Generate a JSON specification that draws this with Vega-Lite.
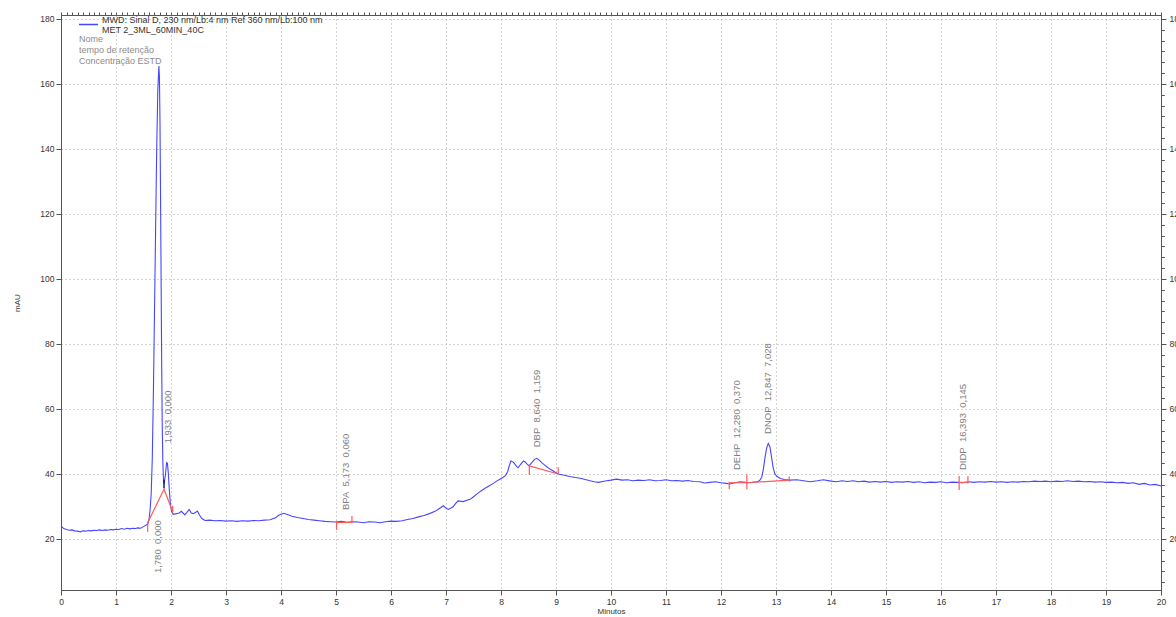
{
  "$schema": "https://vega.github.io/schema/vega-lite/v6.json",
  "width": 1100,
  "height": 575,
  "autosize": {"type": "none"},
  "padding": {"left": 61, "top": 15, "right": 15, "bottom": 27},
  "background": "white",
  "config": {
    "font": "Liberation Sans",
    "view": {"stroke": "#555555", "strokeWidth": 1}
  },
  "title": {
    "text": ["Nome", "tempo de retenção", "Concentração ESTD"],
    "anchor": "start",
    "frame": "group",
    "orient": "top",
    "offset": -54,
    "dx": 18,
    "fontSize": 9,
    "fontWeight": "normal",
    "color": "#8c8c8c",
    "lineHeight": 11
  },
  "datasets": {
    "trace": [
      {"t":0.00,"v":24.0},{"t":0.05,"v":23.2},{"t":0.10,"v":22.9},{"t":0.15,"v":22.7},{"t":0.20,"v":22.8},{"t":0.25,"v":22.5},{"t":0.30,"v":22.4},{"t":0.35,"v":22.2},{"t":0.40,"v":22.5},{"t":0.45,"v":22.4},{"t":0.50,"v":22.6},{"t":0.55,"v":22.5},{"t":0.60,"v":22.7},{"t":0.65,"v":22.6},{"t":0.70,"v":22.8},{"t":0.75,"v":22.6},{"t":0.80,"v":22.8},{"t":0.85,"v":22.7},{"t":0.90,"v":22.9},{"t":0.95,"v":22.8},{"t":1.00,"v":23.0},{"t":1.05,"v":22.9},{"t":1.10,"v":23.2},{"t":1.15,"v":23.0},{"t":1.20,"v":23.3},{"t":1.25,"v":23.1},{"t":1.30,"v":23.3},{"t":1.35,"v":23.2},{"t":1.40,"v":23.4},{"t":1.45,"v":23.3},{"t":1.50,"v":23.8},{"t":1.55,"v":24.3},{"t":1.58,"v":24.6},{"t":1.60,"v":26.0},{"t":1.62,"v":29.0},{"t":1.64,"v":34.0},{"t":1.66,"v":45.0},{"t":1.68,"v":65.0},{"t":1.70,"v":90.0},{"t":1.72,"v":115.0},{"t":1.74,"v":140.0},{"t":1.76,"v":158.0},{"t":1.78,"v":165.5},{"t":1.79,"v":162.0},{"t":1.80,"v":148.0},{"t":1.81,"v":125.0},{"t":1.82,"v":100.0},{"t":1.83,"v":75.0},{"t":1.84,"v":56.0},{"t":1.85,"v":45.0},{"t":1.86,"v":39.5},{"t":1.87,"v":37.0},{"t":1.88,"v":37.5},{"t":1.90,"v":40.0},{"t":1.92,"v":43.5},{"t":1.935,"v":43.3},{"t":1.95,"v":40.5},{"t":1.97,"v":35.0},{"t":1.99,"v":30.5},{"t":2.01,"v":28.5},{"t":2.04,"v":27.6},{"t":2.10,"v":27.8},{"t":2.15,"v":28.0},{"t":2.19,"v":28.5},{"t":2.25,"v":27.4},{"t":2.29,"v":28.2},{"t":2.33,"v":29.1},{"t":2.37,"v":28.0},{"t":2.41,"v":27.8},{"t":2.45,"v":28.2},{"t":2.48,"v":28.6},{"t":2.52,"v":27.3},{"t":2.56,"v":26.3},{"t":2.62,"v":25.7},{"t":2.70,"v":25.8},{"t":2.80,"v":25.6},{"t":2.90,"v":25.7},{"t":3.00,"v":25.5},{"t":3.10,"v":25.6},{"t":3.20,"v":25.4},{"t":3.30,"v":25.6},{"t":3.40,"v":25.5},{"t":3.50,"v":25.7},{"t":3.60,"v":25.6},{"t":3.70,"v":25.8},{"t":3.80,"v":25.9},{"t":3.90,"v":26.5},{"t":3.95,"v":27.2},{"t":4.00,"v":27.6},{"t":4.05,"v":27.9},{"t":4.10,"v":27.6},{"t":4.20,"v":27.0},{"t":4.30,"v":26.6},{"t":4.40,"v":26.3},{"t":4.50,"v":26.0},{"t":4.60,"v":25.8},{"t":4.70,"v":25.6},{"t":4.80,"v":25.4},{"t":4.90,"v":25.3},{"t":5.00,"v":25.2},{"t":5.10,"v":25.4},{"t":5.20,"v":25.1},{"t":5.30,"v":25.3},{"t":5.40,"v":25.2},{"t":5.50,"v":25.0},{"t":5.60,"v":25.3},{"t":5.70,"v":25.2},{"t":5.80,"v":25.0},{"t":5.90,"v":25.3},{"t":6.00,"v":25.5},{"t":6.10,"v":25.4},{"t":6.20,"v":25.6},{"t":6.30,"v":26.0},{"t":6.40,"v":26.3},{"t":6.50,"v":26.8},{"t":6.60,"v":27.2},{"t":6.70,"v":27.8},{"t":6.80,"v":28.5},{"t":6.90,"v":29.6},{"t":6.95,"v":30.2},{"t":7.00,"v":29.5},{"t":7.04,"v":29.1},{"t":7.10,"v":29.6},{"t":7.13,"v":29.9},{"t":7.18,"v":31.0},{"t":7.22,"v":31.7},{"t":7.31,"v":31.5},{"t":7.38,"v":31.9},{"t":7.44,"v":32.2},{"t":7.50,"v":33.0},{"t":7.56,"v":33.8},{"t":7.63,"v":34.7},{"t":7.71,"v":35.6},{"t":7.78,"v":36.3},{"t":7.86,"v":37.1},{"t":7.92,"v":37.8},{"t":7.98,"v":38.4},{"t":8.04,"v":39.0},{"t":8.08,"v":39.5},{"t":8.12,"v":40.7},{"t":8.15,"v":42.5},{"t":8.18,"v":44.0},{"t":8.21,"v":43.8},{"t":8.24,"v":43.3},{"t":8.28,"v":42.4},{"t":8.31,"v":41.9},{"t":8.36,"v":43.0},{"t":8.41,"v":44.0},{"t":8.44,"v":43.7},{"t":8.47,"v":43.1},{"t":8.51,"v":42.5},{"t":8.56,"v":43.5},{"t":8.61,"v":44.5},{"t":8.65,"v":44.8},{"t":8.70,"v":44.2},{"t":8.74,"v":43.5},{"t":8.79,"v":42.8},{"t":8.83,"v":42.2},{"t":8.89,"v":41.5},{"t":8.95,"v":40.9},{"t":9.00,"v":40.4},{"t":9.06,"v":39.9},{"t":9.15,"v":39.6},{"t":9.25,"v":39.2},{"t":9.35,"v":38.9},{"t":9.44,"v":38.7},{"t":9.53,"v":38.3},{"t":9.62,"v":37.9},{"t":9.70,"v":37.6},{"t":9.77,"v":37.4},{"t":9.85,"v":37.7},{"t":9.92,"v":37.9},{"t":10.00,"v":38.1},{"t":10.10,"v":38.4},{"t":10.20,"v":38.1},{"t":10.30,"v":38.2},{"t":10.40,"v":37.9},{"t":10.50,"v":38.1},{"t":10.60,"v":38.0},{"t":10.70,"v":38.2},{"t":10.80,"v":37.9},{"t":10.90,"v":38.0},{"t":11.00,"v":38.2},{"t":11.10,"v":37.9},{"t":11.20,"v":38.0},{"t":11.30,"v":37.8},{"t":11.40,"v":38.0},{"t":11.50,"v":37.7},{"t":11.62,"v":37.6},{"t":11.70,"v":37.2},{"t":11.80,"v":37.4},{"t":11.90,"v":37.6},{"t":12.00,"v":37.3},{"t":12.10,"v":37.1},{"t":12.16,"v":36.9},{"t":12.25,"v":37.3},{"t":12.35,"v":37.6},{"t":12.45,"v":37.4},{"t":12.53,"v":37.3},{"t":12.60,"v":37.5},{"t":12.65,"v":37.6},{"t":12.70,"v":37.9},{"t":12.74,"v":39.0},{"t":12.77,"v":41.5},{"t":12.80,"v":45.0},{"t":12.83,"v":48.0},{"t":12.86,"v":49.4},{"t":12.89,"v":48.3},{"t":12.92,"v":45.0},{"t":12.95,"v":41.8},{"t":12.98,"v":40.0},{"t":13.02,"v":39.2},{"t":13.08,"v":38.6},{"t":13.15,"v":38.3},{"t":13.25,"v":38.1},{"t":13.38,"v":38.2},{"t":13.50,"v":37.9},{"t":13.62,"v":37.6},{"t":13.75,"v":37.9},{"t":13.86,"v":38.2},{"t":14.00,"v":37.8},{"t":14.10,"v":37.6},{"t":14.20,"v":37.9},{"t":14.30,"v":37.7},{"t":14.40,"v":37.9},{"t":14.50,"v":37.6},{"t":14.60,"v":37.8},{"t":14.70,"v":37.5},{"t":14.80,"v":37.7},{"t":14.90,"v":37.5},{"t":15.00,"v":37.7},{"t":15.10,"v":37.4},{"t":15.20,"v":37.6},{"t":15.30,"v":37.5},{"t":15.40,"v":37.7},{"t":15.50,"v":37.4},{"t":15.60,"v":37.6},{"t":15.70,"v":37.3},{"t":15.80,"v":37.5},{"t":15.90,"v":37.4},{"t":16.00,"v":37.6},{"t":16.10,"v":37.3},{"t":16.20,"v":37.5},{"t":16.30,"v":37.4},{"t":16.40,"v":37.3},{"t":16.50,"v":37.6},{"t":16.60,"v":37.4},{"t":16.70,"v":37.6},{"t":16.80,"v":37.5},{"t":16.90,"v":37.7},{"t":17.00,"v":37.5},{"t":17.10,"v":37.6},{"t":17.20,"v":37.4},{"t":17.30,"v":37.6},{"t":17.40,"v":37.5},{"t":17.50,"v":37.7},{"t":17.60,"v":37.6},{"t":17.70,"v":37.8},{"t":17.80,"v":37.7},{"t":17.90,"v":37.8},{"t":18.00,"v":37.6},{"t":18.10,"v":37.8},{"t":18.20,"v":37.7},{"t":18.30,"v":37.9},{"t":18.40,"v":37.7},{"t":18.50,"v":37.8},{"t":18.60,"v":37.6},{"t":18.70,"v":37.7},{"t":18.80,"v":37.5},{"t":18.90,"v":37.6},{"t":19.00,"v":37.4},{"t":19.10,"v":37.5},{"t":19.20,"v":37.3},{"t":19.30,"v":37.4},{"t":19.40,"v":37.1},{"t":19.50,"v":37.3},{"t":19.60,"v":36.8},{"t":19.70,"v":37.1},{"t":19.80,"v":36.6},{"t":19.90,"v":36.8},{"t":20.00,"v":36.3}
    ],
    "baseline": [
      {"seg":"A","t":1.576,"v":25.0},{"seg":"A","t":1.873,"v":35.3},{"seg":"A","t":2.031,"v":28.4},
      {"seg":"B","t":5.01,"v":25.0},{"seg":"B","t":5.29,"v":25.1},
      {"seg":"C","t":8.515,"v":42.5},{"seg":"C","t":9.04,"v":40.0},
      {"seg":"D","t":12.15,"v":37.3},{"seg":"D","t":12.47,"v":37.3},
      {"seg":"E","t":12.47,"v":37.3},{"seg":"E","t":13.24,"v":38.1},
      {"seg":"F","t":16.33,"v":37.4},{"seg":"F","t":16.49,"v":37.4}
    ],
    "limits": [
      {"t":1.576,"v1":22.2,"v2":25.3},{"t":2.031,"v1":28.1,"v2":30.2},
      {"t":5.01,"v1":22.8,"v2":25.6},{"t":5.29,"v1":24.8,"v2":27.1},
      {"t":8.515,"v1":39.7,"v2":42.8},{"t":9.04,"v1":39.9,"v2":42.1},
      {"t":12.15,"v1":35.3,"v2":37.6},{"t":12.47,"v1":35.3,"v2":39.9},{"t":13.24,"v1":37.6,"v2":39.2},
      {"t":16.33,"v1":35.1,"v2":39.4},{"t":16.49,"v1":37.1,"v2":39.4}
    ],
    "split": [
      {"t":1.873,"v1":35.6,"v2":38.2}
    ],
    "peaks": [
      {"t":1.77,"v":9.5,"label":"1,780\u00a0 0,000"},
      {"t":1.95,"v":49.4,"label":"1,933\u00a0 0,000"},
      {"t":5.18,"v":28.9,"label":"BPA\u00a0 5,173\u00a0 0,060"},
      {"t":8.65,"v":48.2,"label":"DBP\u00a0 8,640\u00a0 1,159"},
      {"t":12.285,"v":41.2,"label":"DEHP\u00a0 12,280\u00a0 0,370"},
      {"t":12.86,"v":52.3,"label":"DNOP\u00a0 12,847\u00a0 7,028"},
      {"t":16.405,"v":41.2,"label":"DIDP\u00a0 16,393\u00a0 0,145"}
    ]
  },
  "layer": [
    {
      "data": {"name": "trace"},
      "mark": {"type": "line", "strokeWidth": 1.1, "color": "#4646ff"},
      "encoding": {
        "x": {
          "field": "t", "type": "quantitative",
          "scale": {"domain": [0, 20], "nice": false, "zero": false},
          "axis": {
            "values": [0,1,2,3,4,5,6,7,8,9,10,11,12,13,14,15,16,17,18,19,20],
            "format": "d", "tickSize": 5, "labelFontSize": 8.5, "labelColor": "#333333",
            "labelPadding": 2, "labelFlush": false, "labelOverlap": false,
            "title": "Minutos", "titleFontSize": 8, "titleFontWeight": "normal", "titleColor": "#333333", "titlePadding": 2,
            "grid": true, "gridDash": [1, 3], "gridColor": "#aaaaaa",
            "domainColor": "#555555", "tickColor": "#555555"
          }
        },
        "y": {
          "field": "v", "type": "quantitative",
          "scale": {"domain": [4.3, 181.2], "nice": false, "zero": false},
          "axis": {
            "values": [20,40,60,80,100,120,140,160,180],
            "tickSize": 5, "labelFontSize": 8.5, "labelColor": "#333333", "labelPadding": 2,
            "labelFlush": false, "labelOverlap": false,
            "title": "mAU", "titleFontSize": 8, "titleFontWeight": "normal", "titleColor": "#333333", "titlePadding": 18,
            "grid": true, "gridDash": [1, 3], "gridColor": "#aaaaaa",
            "domainColor": "#555555", "tickColor": "#555555"
          }
        },
        "color": {
          "datum": "MWD: Sinal D, 230 nm/Lb:4 nm Ref 360 nm/Lb:100 nm",
          "scale": {"range": ["#4646ff"]},
          "legend": {
            "orient": "none", "legendX": 17, "legendY": -1, "padding": 0,
            "title": null, "symbolType": "stroke", "symbolSize": 361, "symbolStrokeWidth": 1.5,
            "labelFontSize": 9, "labelColor": "#333333", "labelLimit": 500, "labelOffset": 3,
            "labelExpr": "[datum.label, 'MET 2_3ML_60MIN_40C']",
            "encode": {"labels": {"update": {"lineHeight": {"value": 9.5}, "dy": {"value": -4.5}}}}
          }
        }
      }
    },
    {
      "data": {"name": "baseline"},
      "mark": {"type": "line", "strokeWidth": 1.2, "color": "#ff5a5a"},
      "encoding": {
        "x": {"field": "t", "type": "quantitative", "scale": {"domain": [0, 20], "nice": false, "zero": false},
          "axis": {"tickCount": 200, "labels": false, "domain": false, "grid": false, "tickSize": 3, "tickColor": "#555555", "title": null}},
        "y": {"field": "v", "type": "quantitative", "scale": {"domain": [4.3, 181.2], "nice": false, "zero": false},
          "axis": {"values": [6.667,10,13.333,16.667,20,23.333,26.667,30,33.333,36.667,40,43.333,46.667,50,53.333,56.667,60,63.333,66.667,70,73.333,76.667,80,83.333,86.667,90,93.333,96.667,100,103.333,106.667,110,113.333,116.667,120,123.333,126.667,130,133.333,136.667,140,143.333,146.667,150,153.333,156.667,160,163.333,166.667,170,173.333,176.667,180],
            "labels": false, "domain": false, "grid": false, "tickSize": 3, "tickColor": "#555555", "title": null}},
        "detail": {"field": "seg", "type": "nominal"}
      }
    },
    {
      "data": {"name": "limits"},
      "mark": {"type": "rule", "strokeWidth": 1.2, "color": "#ff5a5a"},
      "encoding": {
        "x": {"field": "t", "type": "quantitative", "scale": {"domain": [0, 20], "nice": false, "zero": false}, "axis": null},
        "y": {"field": "v1", "type": "quantitative", "scale": {"domain": [4.3, 181.2], "nice": false, "zero": false},
          "axis": {"orient": "right", "values": [20,40,60,80,100,120,140,160,180], "tickSize": 5, "labelFontSize": 8.5,
            "labelColor": "#333333", "labelPadding": 3, "labelFlush": false, "labelOverlap": false, "grid": false, "title": null,
            "domainColor": "#555555", "tickColor": "#555555"}},
        "y2": {"field": "v2"}
      }
    },
    {
      "data": {"name": "split"},
      "mark": {"type": "rule", "strokeWidth": 1.5, "color": "#1a1a60"},
      "encoding": {
        "x": {"field": "t", "type": "quantitative", "scale": {"domain": [0, 20], "nice": false, "zero": false}, "axis": null},
        "y": {"field": "v1", "type": "quantitative", "scale": {"domain": [4.3, 181.2], "nice": false, "zero": false},
          "axis": {"orient": "right", "values": [6.667,10,13.333,16.667,20,23.333,26.667,30,33.333,36.667,40,43.333,46.667,50,53.333,56.667,60,63.333,66.667,70,73.333,76.667,80,83.333,86.667,90,93.333,96.667,100,103.333,106.667,110,113.333,116.667,120,123.333,126.667,130,133.333,136.667,140,143.333,146.667,150,153.333,156.667,160,163.333,166.667,170,173.333,176.667,180],
            "labels": false, "domain": false, "grid": false, "tickSize": 3, "tickColor": "#555555", "title": null}},
        "y2": {"field": "v2"}
      }
    },
    {
      "data": {"name": "peaks"},
      "mark": {"type": "text", "angle": 270, "align": "left", "baseline": "middle", "fontSize": 9.5, "color": "#808080"},
      "encoding": {
        "x": {"field": "t", "type": "quantitative", "scale": {"domain": [0, 20], "nice": false, "zero": false}, "axis": null},
        "y": {"field": "v", "type": "quantitative", "scale": {"domain": [4.3, 181.2], "nice": false, "zero": false}, "axis": null},
        "text": {"field": "label"}
      }
    }
  ],
  "resolve": {"axis": {"x": "independent", "y": "independent"}}
}
